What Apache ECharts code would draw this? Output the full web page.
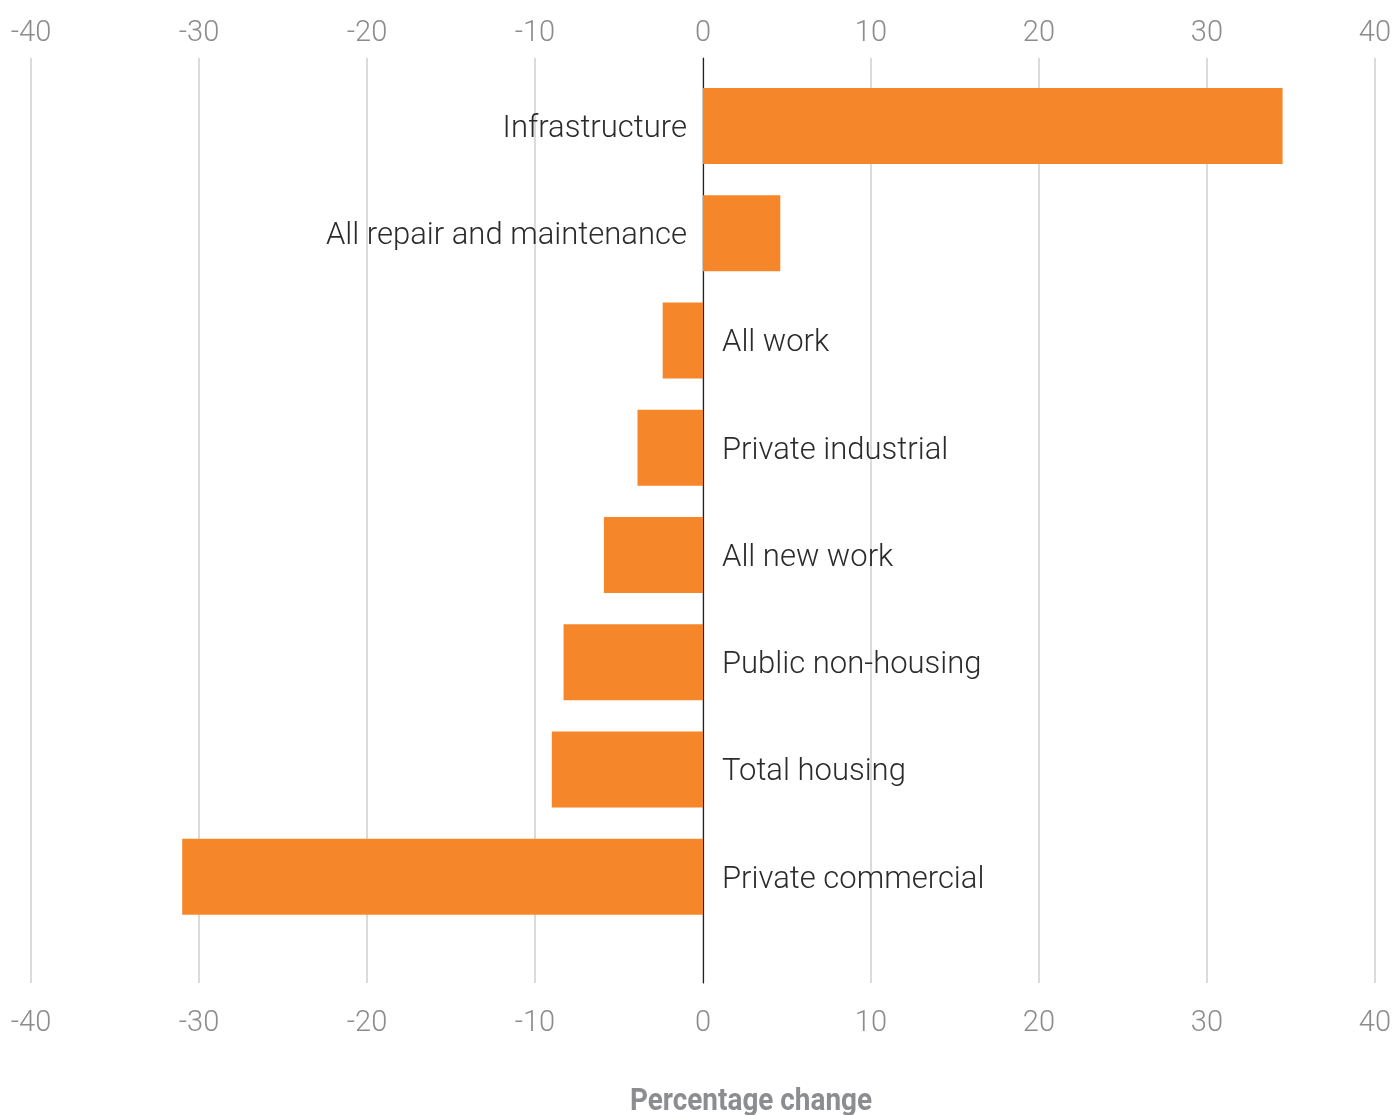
<!DOCTYPE html>
<html><head><meta charset="utf-8">
<script src="https://cdn.jsdelivr.net/npm/echarts@6/dist/echarts.min.js"></script>
<style>html,body{margin:0;padding:0;background:#fff}#c{width:1394px;height:1115px}</style>
</head><body><div id="c"></div>
<script>
const categories = ["Infrastructure","All repair and maintenance","All work","Private industrial","All new work","Public non-housing","Total housing","Private commercial"];
const values = [34.5, 4.6, -2.4, -3.9, -5.9, -8.3, -9.0, -31.0];
const xTicks = {min: -40, max: 40, interval: 10};
const axisTitle = "Percentage change";

const chart = echarts.init(document.getElementById('c'));
const labelFont = {fontFamily: 'Roboto', fontWeight: 300, fontSize: 31, color: '#2b2b2b'};
const tickLabel = {fontFamily: 'Roboto', fontWeight: 300, fontSize: 29, color: '#8c8c8e'};
chart.setOption({
  animation: false,
  grid: [
    {left: 31, right: 19, top: 58, bottom: 132},
    {left: 31, right: 19, top: 72.4, bottom: 184.6}
  ],
  xAxis: [
    {gridIndex: 0, type: 'value', position: 'top', min: xTicks.min, max: xTicks.max, interval: xTicks.interval,
     axisLine: {show: false}, axisTick: {show: false},
     axisLabel: Object.assign({margin: 10}, tickLabel),
     splitLine: {show: true, lineStyle: {color: '#cfcfcf', width: 1.5}}},
    {gridIndex: 0, type: 'value', position: 'bottom', min: xTicks.min, max: xTicks.max, interval: xTicks.interval,
     axisLine: {show: false}, axisTick: {show: false},
     axisLabel: Object.assign({margin: 26}, tickLabel),
     splitLine: {show: false}},
    {gridIndex: 1, type: 'value', min: xTicks.min, max: xTicks.max, interval: xTicks.interval, show: false}
  ],
  yAxis: [
    {gridIndex: 0, type: 'value', min: 0, max: 1, axisLabel: {show: false}, axisTick: {show: false}, splitLine: {show: false},
     axisLine: {show: true, onZero: true, onZeroAxisIndex: 0, lineStyle: {color: '#222', width: 1.2}}},
    {gridIndex: 1, type: 'category', data: categories, inverse: true, show: false}
  ],
  graphic: [{
    type: 'text', x: 751, y: 1102, scaleX: 0.9,
    style: {text: axisTitle, fontFamily: 'Roboto', fontWeight: 'bold', fontSize: 31, fill: '#8c8d90', align: 'center', verticalAlign: 'middle'}
  }],
  series: [{
    type: 'bar', xAxisIndex: 2, yAxisIndex: 1, barWidth: 76, z: 1,
    itemStyle: {color: '#F58629'},
    data: values.map(v => ({value: v, label: {position: v >= 0 ? 'left' : 'right', distance: v >= 0 ? 16 : 19}})),
    label: Object.assign({show: true, formatter: '{b}', offset: [0, 3]}, labelFont)
  }]
});
</script></body></html>
